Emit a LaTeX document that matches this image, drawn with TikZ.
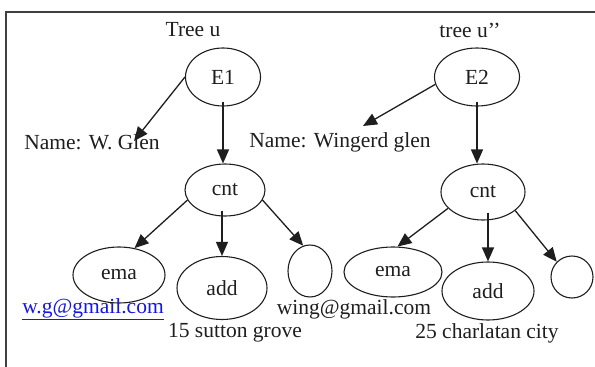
\documentclass[tikz,border=0pt]{standalone}
\usepackage{fontspec}
\setmainfont{Liberation Serif}
\usetikzlibrary{shapes.geometric,arrows.meta}
\definecolor{linkblue}{RGB}{20,20,235}
\definecolor{ink}{RGB}{30,30,30}
\tikzset{
  every node/.style={font=\fontsize{21.5}{24}\selectfont, text=ink},
  ell/.style={draw=ink, ellipse, line width=1.1pt, inner sep=0pt},
  lbl/.style={inner sep=0pt},
  arr/.style={-{Triangle[length=14pt,width=12pt]}, line width=1.3pt, draw=ink},
  frame/.style={line width=1.6pt, draw=black!75}
}
\begin{document}
\begin{tikzpicture}[x=1pt,y=-1pt]
\useasboundingbox (0,0) rectangle (595,367);
% frame
\draw[frame] (6,367) -- (6,12) -- (595,12);

% left tree
\node[lbl] (t1) at (193,30) {Tree u};
\node[ell, minimum width=75pt, minimum height=58pt] (e1) at (223,77) {E1};
\node[lbl] (n1) at (92,142) {Name: W. Glen};
\coordinate (tip1) at (134,141);
\node[ell, minimum width=80pt, minimum height=52pt] (c1) at (225,190) {cnt};
\node[ell, minimum width=92pt, minimum height=56pt] (m1) at (119,275) {ema};
\node[ell, minimum width=90pt, minimum height=63pt] (a1) at (222,288) {add};
\node[ell, minimum width=44pt, minimum height=52pt] (o1) at (310,271) {};
\node[lbl, text=linkblue] (w1) at (93,309) {\underline{w.g@gmail.com}};
\node[lbl] (s1) at (235,333) {15 sutton grove};

\draw[arr] (e1.south) ++(0,-5) -- (e1.south |- c1.north);
\draw[arr] (e1.west) -- (tip1);
\draw[arr] (c1.195) -- (m1.60);
\draw[arr] (c1.south -| a1.north) ++(0,-6) -- (a1.north);
\draw[arr] (c1.-15) -- (o1.105);

% right tree
\node[lbl] (t2) at (470,30) {tree u’’};
\node[ell, minimum width=85pt, minimum height=58pt] (e2) at (477,77) {E2};
\node[lbl] (n2) at (340,142) {Name: Wingerd glen};
\coordinate (tip2) at (363,126);
\node[ell, minimum width=84pt, minimum height=56pt] (c2) at (483,192) {cnt};
\node[ell, minimum width=98pt, minimum height=50pt] (m2) at (393,272) {ema};
\node[ell, minimum width=92pt, minimum height=58pt] (a2) at (488,291) {add};
\node[ell, minimum width=42pt, minimum height=42pt] (o2) at (572,277) {};
\node[lbl] (w2) at (354,309) {wing@gmail.com};
\node[lbl] (s2) at (487,333) {25 charlatan city};

\draw[arr] (e2.south) ++(0,-5) -- (e2.south |- c2.north);
\draw[arr] (e2.190) -- (tip2);
\draw[arr] (c2.205) -- (m2.80);
\draw[arr] (c2.south -| a2.north) ++(0,-8) -- (a2.north);
\draw[arr] (c2.-30) -- (o2.135);
\end{tikzpicture}
\end{document}
